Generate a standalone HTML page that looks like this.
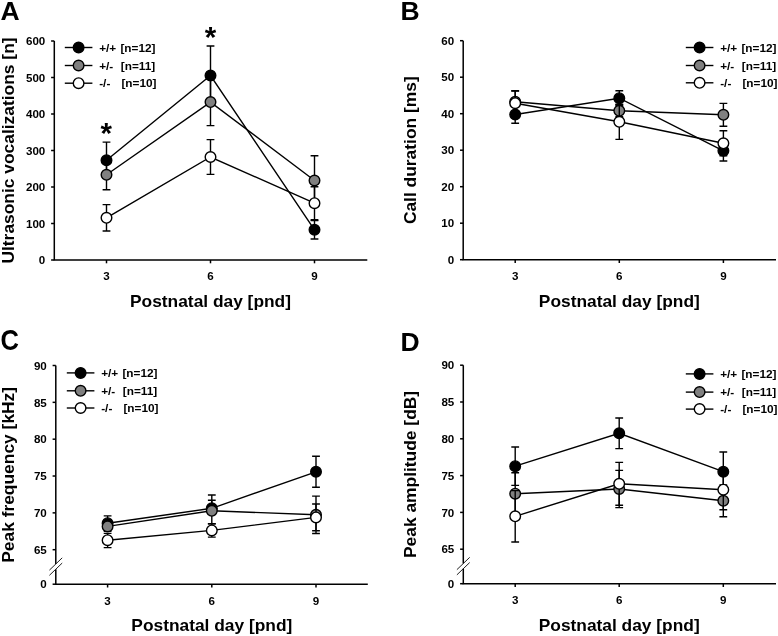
<!DOCTYPE html>
<html><head><meta charset="utf-8"><style>
html,body{margin:0;padding:0;background:#fff;width:778px;height:636px;overflow:hidden}
svg{display:block;will-change:transform}
text{font-family:"Liberation Sans", sans-serif;font-weight:bold;fill:#000}
</style></head><body>
<svg width="778" height="636" viewBox="0 0 778 636">
<rect width="778" height="636" fill="#fff"/>
<path d="M54.3,41 V260 H367.3" stroke="#000" stroke-width="1.5" fill="none"/>
<line x1="51.099999999999994" y1="260.0" x2="54.3" y2="260.0" stroke="#000" stroke-width="1.5"/>
<text x="45.30" y="264.20" font-size="11.6" text-anchor="end" >0</text>
<line x1="51.099999999999994" y1="223.5" x2="54.3" y2="223.5" stroke="#000" stroke-width="1.5"/>
<text x="45.30" y="227.70" font-size="11.6" text-anchor="end" >100</text>
<line x1="51.099999999999994" y1="187.0" x2="54.3" y2="187.0" stroke="#000" stroke-width="1.5"/>
<text x="45.30" y="191.20" font-size="11.6" text-anchor="end" >200</text>
<line x1="51.099999999999994" y1="150.5" x2="54.3" y2="150.5" stroke="#000" stroke-width="1.5"/>
<text x="45.30" y="154.70" font-size="11.6" text-anchor="end" >300</text>
<line x1="51.099999999999994" y1="114.0" x2="54.3" y2="114.0" stroke="#000" stroke-width="1.5"/>
<text x="45.30" y="118.20" font-size="11.6" text-anchor="end" >400</text>
<line x1="51.099999999999994" y1="77.5" x2="54.3" y2="77.5" stroke="#000" stroke-width="1.5"/>
<text x="45.30" y="81.70" font-size="11.6" text-anchor="end" >500</text>
<line x1="51.099999999999994" y1="41.0" x2="54.3" y2="41.0" stroke="#000" stroke-width="1.5"/>
<text x="45.30" y="45.20" font-size="11.6" text-anchor="end" >600</text>
<line x1="106.5" y1="260" x2="106.5" y2="263.3" stroke="#000" stroke-width="1.5"/>
<text x="106.50" y="280.30" font-size="11.6" text-anchor="middle" >3</text>
<line x1="210.5" y1="260" x2="210.5" y2="263.3" stroke="#000" stroke-width="1.5"/>
<text x="210.50" y="280.30" font-size="11.6" text-anchor="middle" >6</text>
<line x1="314.5" y1="260" x2="314.5" y2="263.3" stroke="#000" stroke-width="1.5"/>
<text x="314.50" y="280.30" font-size="11.6" text-anchor="middle" >9</text>
<text x="210.50" y="306.80" font-size="17.35" text-anchor="middle" >Postnatal day [pnd]</text>
<text x="0" y="0" font-size="17.4" text-anchor="middle" transform="translate(14.0,150.50) rotate(-90)">Ultrasonic vocalizations [n]</text>
<text x="0.60" y="19.80" font-size="26.5" text-anchor="start" >A</text>
<line x1="64.8" y1="47.5" x2="92.39999999999999" y2="47.5" stroke="#000" stroke-width="1.4"/>
<circle cx="78.6" cy="47.5" r="5.3" fill="#000" stroke="#000" stroke-width="1.4"/>
<text x="99.20" y="51.70" font-size="11.8" text-anchor="start" >+/+</text>
<text x="120.40" y="51.70" font-size="11.8" text-anchor="start" >[n=12]</text>
<line x1="64.8" y1="65.5" x2="92.39999999999999" y2="65.5" stroke="#000" stroke-width="1.4"/>
<circle cx="78.6" cy="65.5" r="5.3" fill="#808080" stroke="#000" stroke-width="1.4"/>
<text x="99.20" y="69.70" font-size="11.8" text-anchor="start" >+/-</text>
<text x="120.80" y="69.70" font-size="11.8" text-anchor="start" >[n=11]</text>
<line x1="64.8" y1="83.2" x2="92.39999999999999" y2="83.2" stroke="#000" stroke-width="1.4"/>
<circle cx="78.6" cy="83.2" r="5.3" fill="#fff" stroke="#000" stroke-width="1.4"/>
<text x="99.20" y="87.40" font-size="11.8" text-anchor="start" >-/-</text>
<text x="121.40" y="87.40" font-size="11.8" text-anchor="start" >[n=10]</text>
<path d="M106.5,160.3 L210.5,75.5 L314.5,229.8" stroke="#000" stroke-width="1.4" fill="none"/>
<path d="M106.5,142.10000000000002 V177.9 M102.6,142.10000000000002 H110.4 M102.6,177.9 H110.4" stroke="#000" stroke-width="1.4" fill="none"/>
<path d="M210.5,46.0 V105.0 M206.6,46.0 H214.4 M206.6,105.0 H214.4" stroke="#000" stroke-width="1.4" fill="none"/>
<path d="M314.5,220.60000000000002 V239.0 M310.6,220.60000000000002 H318.4 M310.6,239.0 H318.4" stroke="#000" stroke-width="1.4" fill="none"/>
<circle cx="106.5" cy="160.3" r="5.3" fill="#000" stroke="#000" stroke-width="1.4"/>
<circle cx="210.5" cy="75.5" r="5.3" fill="#000" stroke="#000" stroke-width="1.4"/>
<circle cx="314.5" cy="229.8" r="5.3" fill="#000" stroke="#000" stroke-width="1.4"/>
<path d="M106.5,174.8 L210.5,102.1 L314.5,180.5" stroke="#000" stroke-width="1.4" fill="none"/>
<path d="M106.5,159.8 V189.8 M102.6,159.8 H110.4 M102.6,189.8 H110.4" stroke="#000" stroke-width="1.4" fill="none"/>
<path d="M210.5,78.6 V125.6 M206.6,78.6 H214.4 M206.6,125.6 H214.4" stroke="#000" stroke-width="1.4" fill="none"/>
<path d="M314.5,155.8 V205.2 M310.6,155.8 H318.4 M310.6,205.2 H318.4" stroke="#000" stroke-width="1.4" fill="none"/>
<circle cx="106.5" cy="174.8" r="5.3" fill="#808080" stroke="#000" stroke-width="1.4"/>
<circle cx="210.5" cy="102.1" r="5.3" fill="#808080" stroke="#000" stroke-width="1.4"/>
<circle cx="314.5" cy="180.5" r="5.3" fill="#808080" stroke="#000" stroke-width="1.4"/>
<path d="M106.5,217.8 L210.5,157.0 L314.5,203.2" stroke="#000" stroke-width="1.4" fill="none"/>
<path d="M106.5,204.60000000000002 V231.0 M102.6,204.60000000000002 H110.4 M102.6,231.0 H110.4" stroke="#000" stroke-width="1.4" fill="none"/>
<path d="M210.5,139.6 V174.4 M206.6,139.6 H214.4 M206.6,174.4 H214.4" stroke="#000" stroke-width="1.4" fill="none"/>
<path d="M314.5,186.7 V219.7 M310.6,186.7 H318.4 M310.6,219.7 H318.4" stroke="#000" stroke-width="1.4" fill="none"/>
<circle cx="106.5" cy="217.8" r="5.3" fill="#fff" stroke="#000" stroke-width="1.4"/>
<circle cx="210.5" cy="157.0" r="5.3" fill="#fff" stroke="#000" stroke-width="1.4"/>
<circle cx="314.5" cy="203.2" r="5.3" fill="#fff" stroke="#000" stroke-width="1.4"/>
<text x="106.20" y="143.00" font-size="29.5" text-anchor="middle" >*</text>
<text x="210.60" y="47.00" font-size="29.5" text-anchor="middle" >*</text>
<path d="M463.2,40.7 V259.7 H776" stroke="#000" stroke-width="1.5" fill="none"/>
<line x1="460.0" y1="259.7" x2="463.2" y2="259.7" stroke="#000" stroke-width="1.5"/>
<text x="454.20" y="263.90" font-size="11.6" text-anchor="end" >0</text>
<line x1="460.0" y1="223.2" x2="463.2" y2="223.2" stroke="#000" stroke-width="1.5"/>
<text x="454.20" y="227.40" font-size="11.6" text-anchor="end" >10</text>
<line x1="460.0" y1="186.7" x2="463.2" y2="186.7" stroke="#000" stroke-width="1.5"/>
<text x="454.20" y="190.90" font-size="11.6" text-anchor="end" >20</text>
<line x1="460.0" y1="150.2" x2="463.2" y2="150.2" stroke="#000" stroke-width="1.5"/>
<text x="454.20" y="154.40" font-size="11.6" text-anchor="end" >30</text>
<line x1="460.0" y1="113.69999999999999" x2="463.2" y2="113.69999999999999" stroke="#000" stroke-width="1.5"/>
<text x="454.20" y="117.90" font-size="11.6" text-anchor="end" >40</text>
<line x1="460.0" y1="77.19999999999999" x2="463.2" y2="77.19999999999999" stroke="#000" stroke-width="1.5"/>
<text x="454.20" y="81.40" font-size="11.6" text-anchor="end" >50</text>
<line x1="460.0" y1="40.69999999999999" x2="463.2" y2="40.69999999999999" stroke="#000" stroke-width="1.5"/>
<text x="454.20" y="44.90" font-size="11.6" text-anchor="end" >60</text>
<line x1="515.2" y1="259.7" x2="515.2" y2="263.0" stroke="#000" stroke-width="1.5"/>
<text x="515.20" y="280.00" font-size="11.6" text-anchor="middle" >3</text>
<line x1="619.3" y1="259.7" x2="619.3" y2="263.0" stroke="#000" stroke-width="1.5"/>
<text x="619.30" y="280.00" font-size="11.6" text-anchor="middle" >6</text>
<line x1="723.4" y1="259.7" x2="723.4" y2="263.0" stroke="#000" stroke-width="1.5"/>
<text x="723.40" y="280.00" font-size="11.6" text-anchor="middle" >9</text>
<text x="619.30" y="306.50" font-size="17.35" text-anchor="middle" >Postnatal day [pnd]</text>
<text x="0" y="0" font-size="17.4" text-anchor="middle" transform="translate(415.6,150.20) rotate(-90)">Call duration [ms]</text>
<text x="400.50" y="20.20" font-size="26.5" text-anchor="start" >B</text>
<line x1="685.8000000000001" y1="47.5" x2="713.4" y2="47.5" stroke="#000" stroke-width="1.4"/>
<circle cx="699.6" cy="47.5" r="5.3" fill="#000" stroke="#000" stroke-width="1.4"/>
<text x="720.20" y="51.70" font-size="11.8" text-anchor="start" >+/+</text>
<text x="741.40" y="51.70" font-size="11.8" text-anchor="start" >[n=12]</text>
<line x1="685.8000000000001" y1="65.5" x2="713.4" y2="65.5" stroke="#000" stroke-width="1.4"/>
<circle cx="699.6" cy="65.5" r="5.3" fill="#808080" stroke="#000" stroke-width="1.4"/>
<text x="720.20" y="69.70" font-size="11.8" text-anchor="start" >+/-</text>
<text x="741.80" y="69.70" font-size="11.8" text-anchor="start" >[n=11]</text>
<line x1="685.8000000000001" y1="82.8" x2="713.4" y2="82.8" stroke="#000" stroke-width="1.4"/>
<circle cx="699.6" cy="82.8" r="5.3" fill="#fff" stroke="#000" stroke-width="1.4"/>
<text x="720.20" y="87.00" font-size="11.8" text-anchor="start" >-/-</text>
<text x="742.40" y="87.00" font-size="11.8" text-anchor="start" >[n=10]</text>
<path d="M515.2,114.5 L619.3,98.2 L723.4,150.8" stroke="#000" stroke-width="1.4" fill="none"/>
<path d="M515.2,105.8 V123.2 M511.30000000000007,105.8 H519.1 M511.30000000000007,123.2 H519.1" stroke="#000" stroke-width="1.4" fill="none"/>
<path d="M619.3,90.7 V105.7 M615.4,90.7 H623.1999999999999 M615.4,105.7 H623.1999999999999" stroke="#000" stroke-width="1.4" fill="none"/>
<path d="M723.4,140.60000000000002 V161.0 M719.5,140.60000000000002 H727.3 M719.5,161.0 H727.3" stroke="#000" stroke-width="1.4" fill="none"/>
<circle cx="515.2" cy="114.5" r="5.3" fill="#000" stroke="#000" stroke-width="1.4"/>
<circle cx="619.3" cy="98.2" r="5.3" fill="#000" stroke="#000" stroke-width="1.4"/>
<circle cx="723.4" cy="150.8" r="5.3" fill="#000" stroke="#000" stroke-width="1.4"/>
<path d="M515.2,101.8 L619.3,110.8 L723.4,114.8" stroke="#000" stroke-width="1.4" fill="none"/>
<path d="M515.2,90.8 V112.8 M511.30000000000007,90.8 H519.1 M511.30000000000007,112.8 H519.1" stroke="#000" stroke-width="1.4" fill="none"/>
<path d="M619.3,104.8 V116.8 M615.4,104.8 H623.1999999999999 M615.4,116.8 H623.1999999999999" stroke="#000" stroke-width="1.4" fill="none"/>
<path d="M723.4,103.39999999999999 V126.2 M719.5,103.39999999999999 H727.3 M719.5,126.2 H727.3" stroke="#000" stroke-width="1.4" fill="none"/>
<circle cx="515.2" cy="101.8" r="5.3" fill="#808080" stroke="#000" stroke-width="1.4"/>
<circle cx="619.3" cy="110.8" r="5.3" fill="#808080" stroke="#000" stroke-width="1.4"/>
<circle cx="723.4" cy="114.8" r="5.3" fill="#808080" stroke="#000" stroke-width="1.4"/>
<path d="M515.2,103.2 L619.3,121.8 L723.4,143.3" stroke="#000" stroke-width="1.4" fill="none"/>
<path d="M515.2,91.0 V115.4 M511.30000000000007,91.0 H519.1 M511.30000000000007,115.4 H519.1" stroke="#000" stroke-width="1.4" fill="none"/>
<path d="M619.3,104.19999999999999 V139.4 M615.4,104.19999999999999 H623.1999999999999 M615.4,139.4 H623.1999999999999" stroke="#000" stroke-width="1.4" fill="none"/>
<path d="M723.4,130.8 V155.8 M719.5,130.8 H727.3 M719.5,155.8 H727.3" stroke="#000" stroke-width="1.4" fill="none"/>
<circle cx="515.2" cy="103.2" r="5.3" fill="#fff" stroke="#000" stroke-width="1.4"/>
<circle cx="619.3" cy="121.8" r="5.3" fill="#fff" stroke="#000" stroke-width="1.4"/>
<circle cx="723.4" cy="143.3" r="5.3" fill="#fff" stroke="#000" stroke-width="1.4"/>
<path d="M55.8,365.5 V564.0 M55.8,569.2 V584.2 H367.8" stroke="#000" stroke-width="1.5" fill="none"/>
<line x1="49.4" y1="570.144" x2="62.199999999999996" y2="557.856" stroke="#222" stroke-width="1.0"/>
<line x1="49.4" y1="575.344" x2="62.199999999999996" y2="563.056" stroke="#222" stroke-width="1.0"/>
<line x1="52.599999999999994" y1="365.5" x2="55.8" y2="365.5" stroke="#000" stroke-width="1.5"/>
<text x="46.80" y="369.70" font-size="11.6" text-anchor="end" >90</text>
<line x1="52.599999999999994" y1="402.34000000000003" x2="55.8" y2="402.34000000000003" stroke="#000" stroke-width="1.5"/>
<text x="46.80" y="406.54" font-size="11.6" text-anchor="end" >85</text>
<line x1="52.599999999999994" y1="439.18" x2="55.8" y2="439.18" stroke="#000" stroke-width="1.5"/>
<text x="46.80" y="443.38" font-size="11.6" text-anchor="end" >80</text>
<line x1="52.599999999999994" y1="476.02" x2="55.8" y2="476.02" stroke="#000" stroke-width="1.5"/>
<text x="46.80" y="480.22" font-size="11.6" text-anchor="end" >75</text>
<line x1="52.599999999999994" y1="512.86" x2="55.8" y2="512.86" stroke="#000" stroke-width="1.5"/>
<text x="46.80" y="517.06" font-size="11.6" text-anchor="end" >70</text>
<line x1="52.599999999999994" y1="549.7" x2="55.8" y2="549.7" stroke="#000" stroke-width="1.5"/>
<text x="46.80" y="553.90" font-size="11.6" text-anchor="end" >65</text>
<line x1="52.599999999999994" y1="584.2" x2="55.8" y2="584.2" stroke="#000" stroke-width="1.5"/>
<text x="46.80" y="588.40" font-size="11.6" text-anchor="end" >0</text>
<line x1="107.6" y1="584.2" x2="107.6" y2="587.5" stroke="#000" stroke-width="1.5"/>
<text x="107.60" y="604.50" font-size="11.6" text-anchor="middle" >3</text>
<line x1="211.8" y1="584.2" x2="211.8" y2="587.5" stroke="#000" stroke-width="1.5"/>
<text x="211.80" y="604.50" font-size="11.6" text-anchor="middle" >6</text>
<line x1="316.0" y1="584.2" x2="316.0" y2="587.5" stroke="#000" stroke-width="1.5"/>
<text x="316.00" y="604.50" font-size="11.6" text-anchor="middle" >9</text>
<text x="211.80" y="631.00" font-size="17.35" text-anchor="middle" >Postnatal day [pnd]</text>
<text x="0" y="0" font-size="17.4" text-anchor="middle" transform="translate(14.0,474.85) rotate(-90)">Peak frequency [kHz]</text>
<text x="0" y="0" font-size="29" transform="translate(0.6,349.8) scale(0.88,1)">C</text>
<line x1="66.8" y1="372.9" x2="94.39999999999999" y2="372.9" stroke="#000" stroke-width="1.4"/>
<circle cx="80.6" cy="372.9" r="5.3" fill="#000" stroke="#000" stroke-width="1.4"/>
<text x="101.20" y="377.10" font-size="11.8" text-anchor="start" >+/+</text>
<text x="122.40" y="377.10" font-size="11.8" text-anchor="start" >[n=12]</text>
<line x1="66.8" y1="390.79999999999995" x2="94.39999999999999" y2="390.79999999999995" stroke="#000" stroke-width="1.4"/>
<circle cx="80.6" cy="390.79999999999995" r="5.3" fill="#808080" stroke="#000" stroke-width="1.4"/>
<text x="101.20" y="395.00" font-size="11.8" text-anchor="start" >+/-</text>
<text x="122.80" y="395.00" font-size="11.8" text-anchor="start" >[n=11]</text>
<line x1="66.8" y1="408.0" x2="94.39999999999999" y2="408.0" stroke="#000" stroke-width="1.4"/>
<circle cx="80.6" cy="408.0" r="5.3" fill="#fff" stroke="#000" stroke-width="1.4"/>
<text x="101.20" y="412.20" font-size="11.8" text-anchor="start" >-/-</text>
<text x="123.40" y="412.20" font-size="11.8" text-anchor="start" >[n=10]</text>
<path d="M107.6,523.2 L211.8,508.3 L316.0,471.8" stroke="#000" stroke-width="1.4" fill="none"/>
<path d="M107.6,515.9000000000001 V526.2 M103.69999999999999,515.9000000000001 H111.5 M103.69999999999999,526.2 H111.5" stroke="#000" stroke-width="1.4" fill="none"/>
<path d="M211.8,495.0 V511.3 M207.9,495.0 H215.70000000000002 M207.9,511.3 H215.70000000000002" stroke="#000" stroke-width="1.4" fill="none"/>
<path d="M316.0,456.3 V487.3 M312.1,456.3 H319.9 M312.1,487.3 H319.9" stroke="#000" stroke-width="1.4" fill="none"/>
<circle cx="107.6" cy="523.2" r="5.3" fill="#000" stroke="#000" stroke-width="1.4"/>
<circle cx="211.8" cy="508.3" r="5.3" fill="#000" stroke="#000" stroke-width="1.4"/>
<circle cx="316.0" cy="471.8" r="5.3" fill="#000" stroke="#000" stroke-width="1.4"/>
<path d="M107.6,526.4 L211.8,510.8 L316.0,514.8" stroke="#000" stroke-width="1.4" fill="none"/>
<path d="M107.6,521.4 V531.4 M103.69999999999999,521.4 H111.5 M103.69999999999999,531.4 H111.5" stroke="#000" stroke-width="1.4" fill="none"/>
<path d="M211.8,500.3 V523.7 M207.9,500.3 H215.70000000000002 M207.9,523.7 H215.70000000000002" stroke="#000" stroke-width="1.4" fill="none"/>
<path d="M316.0,496.09999999999997 V533.5 M312.1,496.09999999999997 H319.9 M312.1,533.5 H319.9" stroke="#000" stroke-width="1.4" fill="none"/>
<circle cx="107.6" cy="526.4" r="5.3" fill="#808080" stroke="#000" stroke-width="1.4"/>
<circle cx="211.8" cy="510.8" r="5.3" fill="#808080" stroke="#000" stroke-width="1.4"/>
<circle cx="316.0" cy="514.8" r="5.3" fill="#808080" stroke="#000" stroke-width="1.4"/>
<path d="M107.6,540.2 L211.8,530.4 L316.0,517.4" stroke="#000" stroke-width="1.4" fill="none"/>
<path d="M107.6,533.4000000000001 V547.6 M103.69999999999999,533.4000000000001 H111.5 M103.69999999999999,547.6 H111.5" stroke="#000" stroke-width="1.4" fill="none"/>
<path d="M211.8,523.6999999999999 V537.1 M207.9,523.6999999999999 H215.70000000000002 M207.9,537.1 H215.70000000000002" stroke="#000" stroke-width="1.4" fill="none"/>
<path d="M316.0,504.0 V530.8 M312.1,504.0 H319.9 M312.1,530.8 H319.9" stroke="#000" stroke-width="1.4" fill="none"/>
<circle cx="107.6" cy="540.2" r="5.3" fill="#fff" stroke="#000" stroke-width="1.4"/>
<circle cx="211.8" cy="530.4" r="5.3" fill="#fff" stroke="#000" stroke-width="1.4"/>
<circle cx="316.0" cy="517.4" r="5.3" fill="#fff" stroke="#000" stroke-width="1.4"/>
<path d="M463.3,365.2 V563.5 M463.3,568.7 V583.7 H776" stroke="#000" stroke-width="1.5" fill="none"/>
<line x1="456.90000000000003" y1="569.644" x2="469.7" y2="557.356" stroke="#222" stroke-width="1.0"/>
<line x1="456.90000000000003" y1="574.844" x2="469.7" y2="562.556" stroke="#222" stroke-width="1.0"/>
<line x1="460.1" y1="365.2" x2="463.3" y2="365.2" stroke="#000" stroke-width="1.5"/>
<text x="454.30" y="369.40" font-size="11.6" text-anchor="end" >90</text>
<line x1="460.1" y1="402.0" x2="463.3" y2="402.0" stroke="#000" stroke-width="1.5"/>
<text x="454.30" y="406.20" font-size="11.6" text-anchor="end" >85</text>
<line x1="460.1" y1="438.79999999999995" x2="463.3" y2="438.79999999999995" stroke="#000" stroke-width="1.5"/>
<text x="454.30" y="443.00" font-size="11.6" text-anchor="end" >80</text>
<line x1="460.1" y1="475.59999999999997" x2="463.3" y2="475.59999999999997" stroke="#000" stroke-width="1.5"/>
<text x="454.30" y="479.80" font-size="11.6" text-anchor="end" >75</text>
<line x1="460.1" y1="512.4" x2="463.3" y2="512.4" stroke="#000" stroke-width="1.5"/>
<text x="454.30" y="516.60" font-size="11.6" text-anchor="end" >70</text>
<line x1="460.1" y1="549.2" x2="463.3" y2="549.2" stroke="#000" stroke-width="1.5"/>
<text x="454.30" y="553.40" font-size="11.6" text-anchor="end" >65</text>
<line x1="460.1" y1="583.7" x2="463.3" y2="583.7" stroke="#000" stroke-width="1.5"/>
<text x="454.30" y="587.90" font-size="11.6" text-anchor="end" >0</text>
<line x1="515.2" y1="583.7" x2="515.2" y2="587.0" stroke="#000" stroke-width="1.5"/>
<text x="515.20" y="604.00" font-size="11.6" text-anchor="middle" >3</text>
<line x1="619.2" y1="583.7" x2="619.2" y2="587.0" stroke="#000" stroke-width="1.5"/>
<text x="619.20" y="604.00" font-size="11.6" text-anchor="middle" >6</text>
<line x1="723.3" y1="583.7" x2="723.3" y2="587.0" stroke="#000" stroke-width="1.5"/>
<text x="723.30" y="604.00" font-size="11.6" text-anchor="middle" >9</text>
<text x="619.20" y="630.50" font-size="17.35" text-anchor="middle" >Postnatal day [pnd]</text>
<text x="0" y="0" font-size="17.4" text-anchor="middle" transform="translate(416.1,474.45) rotate(-90)">Peak amplitude [dB]</text>
<text x="400.50" y="351.40" font-size="26.5" text-anchor="start" >D</text>
<line x1="685.8000000000001" y1="373.9" x2="713.4" y2="373.9" stroke="#000" stroke-width="1.4"/>
<circle cx="699.6" cy="373.9" r="5.3" fill="#000" stroke="#000" stroke-width="1.4"/>
<text x="720.20" y="378.10" font-size="11.8" text-anchor="start" >+/+</text>
<text x="741.40" y="378.10" font-size="11.8" text-anchor="start" >[n=12]</text>
<line x1="685.8000000000001" y1="392.09999999999997" x2="713.4" y2="392.09999999999997" stroke="#000" stroke-width="1.4"/>
<circle cx="699.6" cy="392.09999999999997" r="5.3" fill="#808080" stroke="#000" stroke-width="1.4"/>
<text x="720.20" y="396.30" font-size="11.8" text-anchor="start" >+/-</text>
<text x="741.80" y="396.30" font-size="11.8" text-anchor="start" >[n=11]</text>
<line x1="685.8000000000001" y1="409.09999999999997" x2="713.4" y2="409.09999999999997" stroke="#000" stroke-width="1.4"/>
<circle cx="699.6" cy="409.09999999999997" r="5.3" fill="#fff" stroke="#000" stroke-width="1.4"/>
<text x="720.20" y="413.30" font-size="11.8" text-anchor="start" >-/-</text>
<text x="742.40" y="413.30" font-size="11.8" text-anchor="start" >[n=10]</text>
<path d="M515.2,466.2 L619.2,433.3 L723.3,471.7" stroke="#000" stroke-width="1.4" fill="none"/>
<path d="M515.2,447.0 V485.4 M511.30000000000007,447.0 H519.1 M511.30000000000007,485.4 H519.1" stroke="#000" stroke-width="1.4" fill="none"/>
<path d="M619.2,418.0 V448.6 M615.3000000000001,418.0 H623.1 M615.3000000000001,448.6 H623.1" stroke="#000" stroke-width="1.4" fill="none"/>
<path d="M723.3,452.0 V491.4 M719.4,452.0 H727.1999999999999 M719.4,491.4 H727.1999999999999" stroke="#000" stroke-width="1.4" fill="none"/>
<circle cx="515.2" cy="466.2" r="5.3" fill="#000" stroke="#000" stroke-width="1.4"/>
<circle cx="619.2" cy="433.3" r="5.3" fill="#000" stroke="#000" stroke-width="1.4"/>
<circle cx="723.3" cy="471.7" r="5.3" fill="#000" stroke="#000" stroke-width="1.4"/>
<path d="M515.2,493.7 L619.2,489.0 L723.3,500.8" stroke="#000" stroke-width="1.4" fill="none"/>
<path d="M515.2,472.7 V514.7 M511.30000000000007,472.7 H519.1 M511.30000000000007,514.7 H519.1" stroke="#000" stroke-width="1.4" fill="none"/>
<path d="M619.2,470.4 V507.6 M615.3000000000001,470.4 H623.1 M615.3000000000001,507.6 H623.1" stroke="#000" stroke-width="1.4" fill="none"/>
<path d="M723.3,484.90000000000003 V516.7 M719.4,484.90000000000003 H727.1999999999999 M719.4,516.7 H727.1999999999999" stroke="#000" stroke-width="1.4" fill="none"/>
<circle cx="515.2" cy="493.7" r="5.3" fill="#808080" stroke="#000" stroke-width="1.4"/>
<circle cx="619.2" cy="489.0" r="5.3" fill="#808080" stroke="#000" stroke-width="1.4"/>
<circle cx="723.3" cy="500.8" r="5.3" fill="#808080" stroke="#000" stroke-width="1.4"/>
<path d="M515.2,516.3 L619.2,483.8 L723.3,489.7" stroke="#000" stroke-width="1.4" fill="none"/>
<path d="M515.2,490.59999999999997 V542.0 M511.30000000000007,490.59999999999997 H519.1 M511.30000000000007,542.0 H519.1" stroke="#000" stroke-width="1.4" fill="none"/>
<path d="M619.2,462.40000000000003 V505.2 M615.3000000000001,462.40000000000003 H623.1 M615.3000000000001,505.2 H623.1" stroke="#000" stroke-width="1.4" fill="none"/>
<path d="M723.3,469.7 V509.7 M719.4,469.7 H727.1999999999999 M719.4,509.7 H727.1999999999999" stroke="#000" stroke-width="1.4" fill="none"/>
<circle cx="515.2" cy="516.3" r="5.3" fill="#fff" stroke="#000" stroke-width="1.4"/>
<circle cx="619.2" cy="483.8" r="5.3" fill="#fff" stroke="#000" stroke-width="1.4"/>
<circle cx="723.3" cy="489.7" r="5.3" fill="#fff" stroke="#000" stroke-width="1.4"/>
</svg></body></html>
